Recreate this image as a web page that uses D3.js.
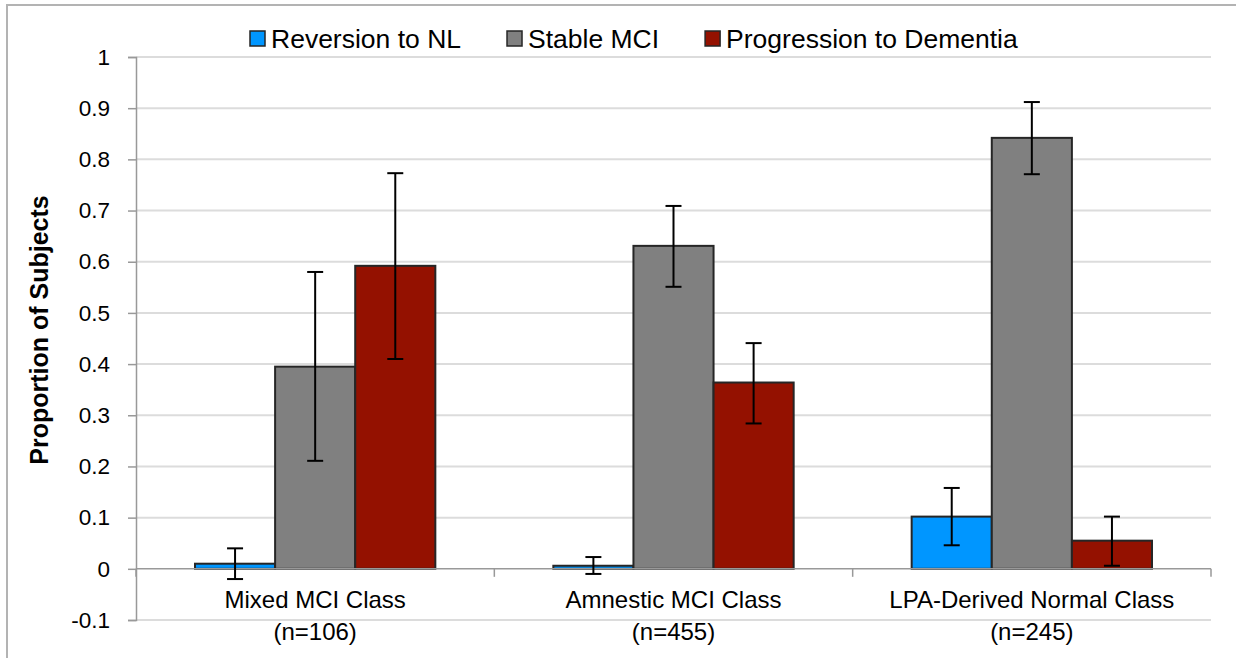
<!DOCTYPE html>
<html>
<head>
<meta charset="utf-8">
<script src="https://cdn.jsdelivr.net/npm/d3@7"></script>
<style>
  html, body { margin: 0; padding: 0; background: #fff; }
  svg { display: block; font-family: "Liberation Sans", Arial, Helvetica, sans-serif; }
</style>
</head>
<body>
<svg id="chart" width="1236" height="658"></svg>
<script>
const categories = ["Mixed MCI Class", "Amnestic MCI Class", "LPA-Derived Normal Class"];
const categoryCounts = ["(n=106)", "(n=455)", "(n=245)"];
const seriesNames = ["Reversion to NL", "Stable MCI", "Progression to Dementia"];
const seriesColors = ["#0096ff", "#808080", "#941100"];
const reversionValues = [0.010, 0.006, 0.102];
const reversionLow = [-0.020, -0.010, 0.046];
const reversionHigh = [0.040, 0.023, 0.158];
const stableValues = [0.395, 0.631, 0.842];
const stableLow = [0.211, 0.551, 0.771];
const stableHigh = [0.580, 0.709, 0.912];
const progressionValues = [0.592, 0.364, 0.055];
const progressionLow = [0.410, 0.284, 0.006];
const progressionHigh = [0.773, 0.441, 0.102];
const yTicks = [-0.1, 0, 0.1, 0.2, 0.3, 0.4, 0.5, 0.6, 0.7, 0.8, 0.9, 1];
const yTickLabels = ["-0.1", "0", "0.1", "0.2", "0.3", "0.4", "0.5", "0.6", "0.7", "0.8", "0.9", "1"];

const series = [
  { name: seriesNames[0], color: seriesColors[0], values: reversionValues, low: reversionLow, high: reversionHigh },
  { name: seriesNames[1], color: seriesColors[1], values: stableValues, low: stableLow, high: stableHigh },
  { name: seriesNames[2], color: seriesColors[2], values: progressionValues, low: progressionLow, high: progressionHigh }
];

const svg = d3.select("#chart");

// outer frame
svg.append("rect").attr("x", 7).attr("y", 5).attr("width", 1240).attr("height", 670)
  .attr("fill", "none").attr("stroke", "#b3b3b3").attr("stroke-width", 2);

const left = 136, right = 1211;
const y = d3.scaleLinear().domain([-0.1, 1]).range([620, 57]);
const x0 = d3.scaleBand().domain(categories).range([left, right]).padding(0);
const x1 = d3.scaleBand().domain(seriesNames).range([59, x0.bandwidth() - 59]).padding(0);

// gridlines
svg.append("g").selectAll("line").data(yTicks.filter(t => t !== 0)).join("line")
  .attr("x1", left).attr("x2", right)
  .attr("y1", d => y(d)).attr("y2", d => y(d))
  .attr("stroke", "#dcdcdc").attr("stroke-width", 2);

// y axis
const yAxis = svg.append("g").attr("transform", `translate(${left},0)`)
  .call(d3.axisLeft(y).tickValues(yTicks).tickSize(8).tickPadding(18)
    .tickFormat((d, i) => yTickLabels[i]));
yAxis.select(".domain").attr("stroke", "#999").attr("stroke-width", 1.5);
yAxis.selectAll(".tick line").attr("stroke", "#999").attr("stroke-width", 1.5);
yAxis.selectAll(".tick text").attr("font-size", 22.5).attr("fill", "#000")
  .attr("font-family", "Liberation Sans, Arial, sans-serif");

// bars
const groups = svg.append("g").selectAll("g").data(series).join("g");
groups.selectAll("rect").data(s => s.values.map((v, i) => ({ s, v, i }))).join("rect")
  .attr("x", d => x0(categories[d.i]) + x1(d.s.name))
  .attr("width", x1.bandwidth())
  .attr("y", d => y(Math.max(0, d.v)))
  .attr("height", d => Math.abs(y(d.v) - y(0)))
  .attr("fill", d => d.s.color)
  .attr("stroke", "#262626").attr("stroke-width", 2);

// x axis at zero
svg.append("line").attr("x1", left).attr("x2", right).attr("y1", y(0)).attr("y2", y(0))
  .attr("stroke", "#999").attr("stroke-width", 1.5);
const xTickPos = categories.map(c => x0(c)).concat([right]);
svg.append("g").selectAll("line").data(xTickPos).join("line")
  .attr("x1", d => d).attr("x2", d => d).attr("y1", y(0)).attr("y2", y(0) + 8)
  .attr("stroke", "#999").attr("stroke-width", 1.5);

// error bars
const errG = svg.append("g");
series.forEach(s => {
  s.values.forEach((v, i) => {
    const cx = x0(categories[i]) + x1(s.name) + x1.bandwidth() / 2;
    errG.append("line").attr("x1", cx).attr("x2", cx).attr("y1", y(s.low[i])).attr("y2", y(s.high[i]))
      .attr("stroke", "#000").attr("stroke-width", 2);
    [s.low[i], s.high[i]].forEach(e => {
      errG.append("line").attr("x1", cx - 8).attr("x2", cx + 8).attr("y1", y(e)).attr("y2", y(e))
        .attr("stroke", "#000").attr("stroke-width", 2);
    });
  });
});

// category labels
const catG = svg.append("g");
categories.forEach((c, i) => {
  const cx = x0(c) + x0.bandwidth() / 2;
  catG.append("text").attr("x", cx).attr("y", 608).attr("text-anchor", "middle")
    .attr("font-size", 24).text(c);
  catG.append("text").attr("x", cx).attr("y", 640).attr("text-anchor", "middle")
    .attr("font-size", 24).text(categoryCounts[i]);
});

// y title
svg.append("text").attr("transform", "translate(48,330) rotate(-90)")
  .attr("text-anchor", "middle").attr("font-size", 25).attr("font-weight", "bold")
  .text("Proportion of Subjects");

// legend
const leg = svg.append("g");
let lx = 250;
series.forEach(s => {
  leg.append("rect").attr("x", lx).attr("y", 31).attr("width", 15).attr("height", 15)
    .attr("fill", s.color).attr("stroke", "#262626").attr("stroke-width", 1.5);
  const t = leg.append("text").attr("x", lx + 21).attr("y", 47.5).attr("font-size", 26.5).text(s.name);
  lx += 21 + t.node().getComputedTextLength() + 46;
});
</script>
</body>
</html>
